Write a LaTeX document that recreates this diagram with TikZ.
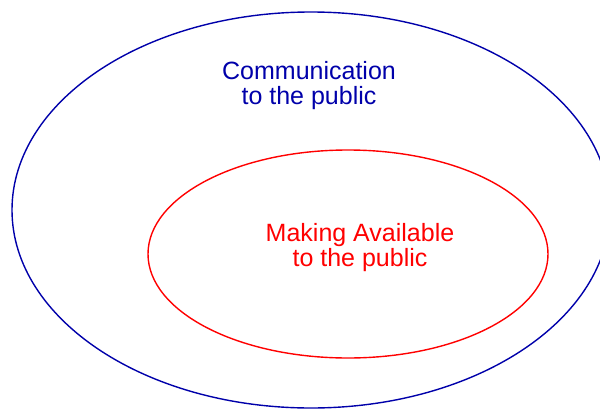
\documentclass[tikz,border=0pt]{standalone}
\usepackage{fontspec}
\setmainfont{Liberation Sans}
\usepackage{tikz}

\definecolor{commblue}{RGB}{0,0,170}
\definecolor{availred}{RGB}{255,0,0}

\begin{document}
\begin{tikzpicture}[x=1bp, y=1bp, line width=1.4bp,
    every node/.style={align=center, inner sep=0pt, font=\fontsize{25bp}{25bp}\selectfont}]
    \useasboundingbox (0,0) rectangle (600,410);

    \draw[commblue] (311,200) ellipse [x radius=299, y radius=198];
    \draw[availred] (348,156) ellipse [x radius=200, y radius=104];

    \node[text=commblue] (COMM) at (309,324) {Communication\\to the public};
    \node[text=availred] (AVAIL) at (360,162) {Making Available\\to the public};
\end{tikzpicture}
\end{document}
